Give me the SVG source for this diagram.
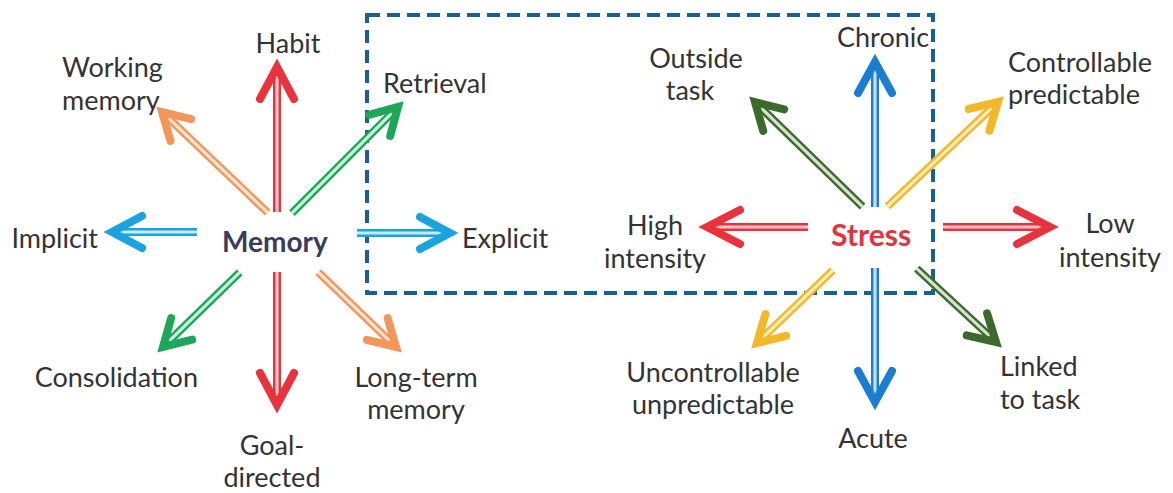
<svg xmlns="http://www.w3.org/2000/svg" width="1173" height="493" viewBox="0 0 1173 493">
  <style>
    text { font-family: Lato, "Liberation Sans", sans-serif; font-size: 27px; fill: #333333; }
    .hub { font-weight: bold; }
    .mid { text-anchor: middle; }
    .end { text-anchor: end; }
    .shaft { stroke-linecap: butt; fill: none; }
    .outer { stroke-width: 8; }
    .inner { stroke-width: 3.2; }
    .head { fill: none; stroke-width: 8; stroke-linecap: round; stroke-linejoin: miter; stroke-miterlimit: 10; }
    .red .outer, .red .head { stroke: #e8333d; } .red .inner { stroke: #f9c2c8; }
    .orange .outer, .orange .head { stroke: #f29659; } .orange .inner { stroke: #fde3d2; }
    .green .outer, .green .head { stroke: #1ea65a; } .green .inner { stroke: #c9f0da; }
    .sky .outer, .sky .head { stroke: #1ba3e0; } .sky .inner { stroke: #c6ebfb; }
    .blue .outer, .blue .head { stroke: #1b7dcf; } .blue .inner { stroke: #bfe0f7; }
    .olive .outer, .olive .head { stroke: #3c6a2d; } .olive .inner { stroke: #d6e4cf; }
    .gold .outer, .gold .head { stroke: #f3b72a; } .gold .inner { stroke: #fdebb8; }
  </style>

  <rect width="1173" height="493" fill="#ffffff"/>

  <!-- dashed frame around the right-hand group -->
  <rect id="frame" x="367" y="15" width="566" height="278" fill="none" stroke="#17608f" stroke-width="4" stroke-dasharray="13 7"/>

  <!-- connectors: each arrow drawn pointing +x from its tip at the origin -->
  <g id="connectors">
    <!-- Memory arrows -->
    <g class="red" transform="translate(277,67) rotate(-90)">
      <line class="shaft outer" x1="-145" y1="0" x2="-6" y2="0"/><line class="shaft inner" x1="-145" y1="0" x2="-6" y2="0"/>
      <polyline class="head" points="-32,-17 0,0 -32,17"/>
    </g>
    <g class="red" transform="translate(277,405) rotate(90)">
      <line class="shaft outer" x1="-133" y1="0" x2="-6" y2="0"/><line class="shaft inner" x1="-133" y1="0" x2="-6" y2="0"/>
      <polyline class="head" points="-32,-17 0,0 -32,17"/>
    </g>
    <g class="orange" transform="translate(162,112) rotate(-136.4)">
      <line class="shaft outer" x1="-146" y1="0" x2="-6" y2="0"/><line class="shaft inner" x1="-146" y1="0" x2="-6" y2="0"/>
      <polyline class="head" points="-26,-15 0,0 -26,15"/>
    </g>
    <g class="green" transform="translate(398,107) rotate(-45)">
      <line class="shaft outer" x1="-150" y1="0" x2="-6" y2="0"/><line class="shaft inner" x1="-150" y1="0" x2="-6" y2="0"/>
      <polyline class="head" points="-26,-15 0,0 -26,15"/>
    </g>
    <g class="sky" transform="translate(112,232) rotate(180)">
      <line class="shaft outer" x1="-85" y1="0" x2="-6" y2="0"/><line class="shaft inner" x1="-85" y1="0" x2="-6" y2="0"/>
      <polyline class="head" points="-30,-16 0,0 -30,16"/>
    </g>
    <g class="sky" transform="translate(450,233)">
      <line class="shaft outer" x1="-93" y1="0" x2="-6" y2="0"/><line class="shaft inner" x1="-93" y1="0" x2="-6" y2="0"/>
      <polyline class="head" points="-30,-16 0,0 -30,16"/>
    </g>
    <g class="green" transform="translate(163,347) rotate(135.8)">
      <line class="shaft outer" x1="-107" y1="0" x2="-6" y2="0"/><line class="shaft inner" x1="-107" y1="0" x2="-6" y2="0"/>
      <polyline class="head" points="-26,-15 0,0 -26,15"/>
    </g>
    <g class="orange" transform="translate(396,347) rotate(43.9)">
      <line class="shaft outer" x1="-108" y1="0" x2="-6" y2="0"/><line class="shaft inner" x1="-108" y1="0" x2="-6" y2="0"/>
      <polyline class="head" points="-26,-15 0,0 -26,15"/>
    </g>

    <!-- Stress arrows -->
    <g class="blue" transform="translate(875,62) rotate(-90)">
      <line class="shaft outer" x1="-145" y1="0" x2="-6" y2="0"/><line class="shaft inner" x1="-145" y1="0" x2="-6" y2="0"/>
      <polyline class="head" points="-31,-17 0,0 -31,17"/>
    </g>
    <g class="blue" transform="translate(875,402) rotate(90)">
      <line class="shaft outer" x1="-134" y1="0" x2="-6" y2="0"/><line class="shaft inner" x1="-134" y1="0" x2="-6" y2="0"/>
      <polyline class="head" points="-31,-17 0,0 -31,17"/>
    </g>
    <g class="olive" transform="translate(755,102) rotate(-135.8)">
      <line class="shaft outer" x1="-150" y1="0" x2="-6" y2="0"/><line class="shaft inner" x1="-150" y1="0" x2="-6" y2="0"/>
      <polyline class="head" points="-26,-15 0,0 -26,15"/>
    </g>
    <g class="gold" transform="translate(998,102) rotate(-43.4)">
      <line class="shaft outer" x1="-152" y1="0" x2="-6" y2="0"/><line class="shaft inner" x1="-152" y1="0" x2="-6" y2="0"/>
      <polyline class="head" points="-26,-15 0,0 -26,15"/>
    </g>
    <g class="red" transform="translate(707,227) rotate(180)">
      <line class="shaft outer" x1="-101" y1="0" x2="-6" y2="0"/><line class="shaft inner" x1="-101" y1="0" x2="-6" y2="0"/>
      <polyline class="head" points="-33,-17 0,0 -33,17"/>
    </g>
    <g class="red" transform="translate(1050,227)">
      <line class="shaft outer" x1="-107" y1="0" x2="-6" y2="0"/><line class="shaft inner" x1="-107" y1="0" x2="-6" y2="0"/>
      <polyline class="head" points="-33,-17 0,0 -33,17"/>
    </g>
    <g class="gold" transform="translate(757,343) rotate(136.2)">
      <line class="shaft outer" x1="-105" y1="0" x2="-6" y2="0"/><line class="shaft inner" x1="-105" y1="0" x2="-6" y2="0"/>
      <polyline class="head" points="-26,-15 0,0 -26,15"/>
    </g>
    <g class="olive" transform="translate(996,342) rotate(42.8)">
      <line class="shaft outer" x1="-108" y1="0" x2="-6" y2="0"/><line class="shaft inner" x1="-108" y1="0" x2="-6" y2="0"/>
      <polyline class="head" points="-26,-15 0,0 -26,15"/>
    </g>
  </g>

  <!-- Memory hub and its labels -->
  <g id="memory"><text class="hub" x="222" y="252" style="fill:#3b3b5e;font-size:28px">Memory</text></g>
  <g id="habit"><text class="mid" x="288" y="53">Habit</text></g>
  <g id="working-memory"><text x="62" y="77">Working</text><text x="62" y="110">memory</text></g>
  <g id="retrieval"><text x="383" y="93">Retrieval</text></g>
  <g id="implicit"><text class="end" x="98" y="248">Implicit</text></g>
  <g id="explicit"><text x="462" y="248">Explicit</text></g>
  <g id="consolidation"><text class="end" x="198" y="387">Consolidation</text></g>
  <g id="long-term-memory"><text class="mid" x="416" y="387">Long-term</text><text class="mid" x="416" y="419">memory</text></g>
  <g id="goal-directed"><text class="mid" x="272" y="455">Goal-</text><text class="mid" x="272" y="487">directed</text></g>

  <!-- Stress hub and its labels -->
  <g id="stress"><text class="hub" x="831" y="246" style="fill:#e0343f;font-size:30px">Stress</text></g>
  <g id="chronic"><text x="837" y="47">Chronic</text></g>
  <g id="outside-task"><text class="mid" x="696" y="68">Outside</text><text class="mid" x="690" y="100">task</text></g>
  <g id="controllable"><text x="1008" y="72">Controllable</text><text x="1008" y="104">predictable</text></g>
  <g id="high-intensity"><text class="mid" x="655" y="235">High</text><text class="mid" x="655" y="268">intensity</text></g>
  <g id="low-intensity"><text class="mid" x="1110" y="233">Low</text><text class="mid" x="1110" y="267">intensity</text></g>
  <g id="uncontrollable"><text class="mid" x="713" y="382">Uncontrollable</text><text class="mid" x="713" y="414">unpredictable</text></g>
  <g id="acute"><text class="mid" x="873" y="448">Acute</text></g>
  <g id="linked-task"><text x="1000" y="376">Linked</text><text x="1000" y="409">to task</text></g>
</svg>
